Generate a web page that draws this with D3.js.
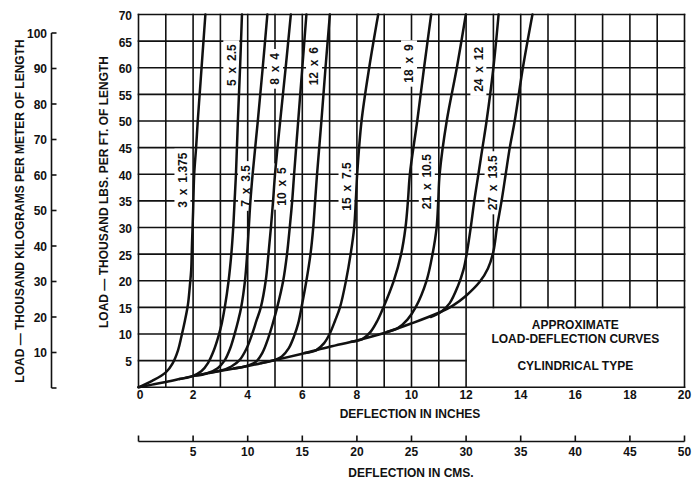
<!DOCTYPE html>
<html><head><meta charset="utf-8">
<script src="https://cdn.jsdelivr.net/npm/d3@7"></script>
<style>
body{margin:0;background:#fff}
text{font-family:"Liberation Sans",Arial,Helvetica,sans-serif;font-weight:bold;fill:#111}
</style>
</head><body>
<svg id="chart" width="700" height="491"></svg>
<script>
// ---- tick labels ----
const inchTicks = [0,2,4,6,8,10,12,14,16,18,20];
const loadTicks = [5,10,15,20,25,30,35,40,45,50,55,60,65,70];
const kgTicks = [10,20,30,40,50,60,70,80,90,100];
const cmTicks = [0,5,10,15,20,25,30,35,40,45,50];

// ---- series: [deflection inches, load thousand lbs/ft] ----
const c3x1375 = [[0,0],[0.5,1.2],[1,2.8],[1.25,4.5],[1.45,7],[1.57,9.5],[1.7,12.5],[1.81,15.5],[1.88,19],[1.93,22],[1.96,27],[2.0,33],[2.04,40],[2.11,45],[2.17,50],[2.24,55],[2.31,60],[2.38,65],[2.45,70]];
const c5x25 = [[1.5,1.55],[1.95,2.05],[2.3,3.0],[2.55,4.6],[2.75,6.8],[2.93,9.6],[3.05,12],[3.16,15],[3.3,20],[3.4,25],[3.47,30],[3.52,35],[3.57,40],[3.64,50],[3.72,60],[3.79,70]];
const c7x35 = [[2.1,2.2],[2.5,2.6],[2.9,3.6],[3.15,5.0],[3.35,7.2],[3.52,10],[3.65,12.5],[3.76,15],[3.9,20],[3.98,25],[4.04,30],[4.1,35],[4.18,40],[4.37,50],[4.55,60],[4.72,70]];
const c8x4 = [[2.6,2.7],[3.0,3.1],[3.4,3.9],[3.7,5.1],[3.95,7.2],[4.15,9.8],[4.32,12.5],[4.48,15],[4.66,20],[4.76,25],[4.85,30],[4.93,35],[5.0,40],[5.19,50],[5.39,60],[5.58,70]];
const c10x5 = [[3.5,3.55],[3.9,3.9],[4.3,4.8],[4.55,6.6],[4.75,9.2],[4.92,12],[5.08,15],[5.3,20],[5.44,25],[5.54,30],[5.63,35],[5.7,40],[5.85,50],[6.0,60],[6.15,70]];
const c12x6 = [[4.5,4.55],[4.9,5.0],[5.25,5.8],[5.5,7.3],[5.7,9.6],[5.85,12],[5.97,15],[6.15,20],[6.3,25],[6.4,30],[6.47,35],[6.54,40],[6.7,50],[6.85,60],[7.01,70]];
const c15x75 = [[6.1,6.43],[6.5,6.95],[6.8,8.3],[7.0,10],[7.2,12.5],[7.38,15],[7.6,20],[7.77,25],[7.9,30],[7.96,35],[8.01,40],[8.17,50],[8.45,60],[8.78,70]];
const c18x9 = [[7.8,8.55],[8.2,9.05],[8.5,10.4],[8.75,12.5],[8.97,15],[9.35,20],[9.62,25],[9.78,30],[9.87,35],[9.94,40],[10.21,50],[10.46,60],[10.72,70]];
const c21x105 = [[9.1,10.38],[9.5,11.1],[9.85,12.7],[10.15,15],[10.55,20],[10.77,25],[10.92,30],[10.98,35],[11.03,40],[11.29,50],[11.66,60],[11.99,70]];
const c24x12 = [[10.7,13.2],[11.1,14.25],[11.4,15.8],[11.7,19],[11.9,22],[12.02,25],[12.17,30],[12.3,35],[12.45,40],[12.6,45],[12.75,50],[13.0,60],[13.19,70]];
const c27x135 = [[0,0],[0.5,0.5],[1,1.0],[2,2.1],[3,3.1],[4,4.0],[5,5.1],[6,6.3],[7,7.6],[8,8.8],[9,10.2],[10,12.0],[11,14.0],[11.5,15.3],[12,17.2],[12.5,19.8],[12.8,22.3],[13.0,25.5],[13.13,30],[13.3,35],[13.45,40],[13.6,45],[13.78,50],[14.08,60],[14.43,70]];

const curveNames = ["3 x 1.375","5 x 2.5","7 x 3.5","8 x 4","10 x 5","12 x 6","15 x 7.5","18 x 9","21 x 10.5","24 x 12","27 x 13.5"];
const curveData = [c3x1375,c5x25,c7x35,c8x4,c10x5,c12x6,c15x75,c18x9,c21x105,c24x12,c27x135];
// label anchor (inches, load)
const labelInch = [1.61,3.40,3.94,5.00,5.26,6.43,7.62,9.91,10.56,12.45,12.97];
const labelLoad = [38.9,60.5,37.8,59.8,37.7,60.3,37.7,60.8,38.6,59.7,38.4];

const boxLines = ["APPROXIMATE","LOAD-DEFLECTION CURVES","CYLINDRICAL TYPE"];

// ---- scales ----
const svg = d3.select("#chart");
svg.append("rect").attr("width",700).attr("height",491).attr("fill","#fff");
const x = d3.scaleLinear().domain([0,20]).range([138.5,684.5]);
const y = d3.scaleLinear().domain([0,70]).range([387.3,14.5]);
const xcm = d3.scaleLinear().domain([0,50]).range([138.5,684.5]);
const ykg = d3.scaleLinear().domain([0,100]).range([388,33]);

const ink = "#111";
const grid = svg.append("g").attr("stroke",ink).attr("stroke-width",1.6).attr("stroke-linecap","square");
// vertical grid lines every inch
d3.range(0,21).forEach(i=>{
  const lo = (i>12 && i<20) ? 15 : 0;
  grid.append("line").attr("x1",x(i)).attr("x2",x(i)).attr("y1",y(lo)).attr("y2",y(70));
});
// horizontal grid lines every 5
d3.range(0,75,5).forEach(v=>{
  const hi = (v>0 && v<15) ? 12 : 20;
  grid.append("line").attr("x1",x(0)).attr("x2",x(hi)).attr("y1",y(v)).attr("y2",y(v));
});

// label backgrounds (white boxes interrupting the grid)
const rectG = svg.append("g");
const curveG = svg.append("g");
const textG = svg.append("g");
curveNames.forEach((name,i)=>{
  const tr = `translate(${x(labelInch[i])},${y(labelLoad[i])}) rotate(-90)`;
  const t = textG.append("text").attr("transform",tr).attr("text-anchor","middle").attr("dy","0.36em")
    .attr("font-size",12).attr("word-spacing",2.5).text(name);
  const len = t.node().getComputedTextLength();
  rectG.append("rect").attr("transform",tr).attr("fill","#fff")
    .attr("x",-len/2-4).attr("y",-8).attr("width",len+8).attr("height",16);
});

// curves
const line = d3.line().x(d=>x(d[0])).y(d=>y(d[1])).curve(d3.curveCatmullRom.alpha(0.5));
curveG.selectAll("path").data(curveData).join("path")
  .attr("d",line).attr("fill","none").attr("stroke",ink).attr("stroke-width",2.5)
  .attr("stroke-linecap","round").attr("stroke-linejoin","round");

// y axis (lbs) tick labels
svg.append("g").selectAll("text").data(loadTicks).join("text")
  .attr("x",132).attr("y",d=>y(d)).attr("dy","0.45em").attr("text-anchor","end")
  .attr("font-size",12).text(d=>d);

// x axis (inches) labels
svg.append("g").selectAll("text").data(inchTicks).join("text")
  .attr("x",d=>x(d)+(d===0?1.5:0)).attr("y",399).attr("text-anchor","middle")
  .attr("font-size",12).text(d=>d);

svg.append("text").attr("x",410).attr("y",418).attr("text-anchor","middle")
  .attr("font-size",12).text("DEFLECTION IN INCHES");

// cm axis
const cmY = 441.5;
const cmG = svg.append("g").attr("stroke",ink).attr("stroke-width",1.6);
cmG.append("line").attr("x1",xcm(0)).attr("x2",xcm(50)).attr("y1",cmY).attr("y2",cmY);
cmG.selectAll("line.t").data(cmTicks).join("line").attr("class","t")
  .attr("x1",d=>xcm(d)).attr("x2",d=>xcm(d)).attr("y1",cmY).attr("y2",cmY-6);
svg.append("g").selectAll("text").data(cmTicks.filter(d=>d>0)).join("text")
  .attr("x",d=>xcm(d)).attr("y",456).attr("text-anchor","middle")
  .attr("font-size",12).text(d=>d);
svg.append("text").attr("x",411).attr("y",477).attr("text-anchor","middle")
  .attr("font-size",12).text("DEFLECTION IN CMS.");

// kg axis
const kgX = 51.5;
const kgG = svg.append("g").attr("stroke",ink).attr("stroke-width",1.6);
kgG.append("line").attr("x1",kgX).attr("x2",kgX).attr("y1",ykg(100)).attr("y2",ykg(0));
kgG.selectAll("line.t").data([0].concat(kgTicks)).join("line").attr("class","t")
  .attr("x1",kgX).attr("x2",kgX+5).attr("y1",d=>ykg(d)).attr("y2",d=>ykg(d));
svg.append("g").selectAll("text").data(kgTicks).join("text")
  .attr("x",47).attr("y",d=>ykg(d)).attr("dy","0.4em").attr("text-anchor","end")
  .attr("font-size",12).text(d=>d);

// axis titles
svg.append("text").attr("transform","translate(108,192) rotate(-90)").attr("text-anchor","middle")
  .attr("font-size",12).text("LOAD — THOUSAND LBS. PER FT. OF LENGTH");
svg.append("text").attr("transform","translate(24,211) rotate(-90)").attr("text-anchor","middle")
  .attr("font-size",12).text("LOAD — THOUSAND KILOGRAMS PER METER OF LENGTH");

// box text
const boxBase = [329,343,370];
svg.append("g").selectAll("text").data(boxLines).join("text")
  .attr("x",x(16)).attr("y",(d,i)=>boxBase[i]).attr("text-anchor","middle")
  .attr("font-size",12).text(d=>d);
</script>
</body></html>
